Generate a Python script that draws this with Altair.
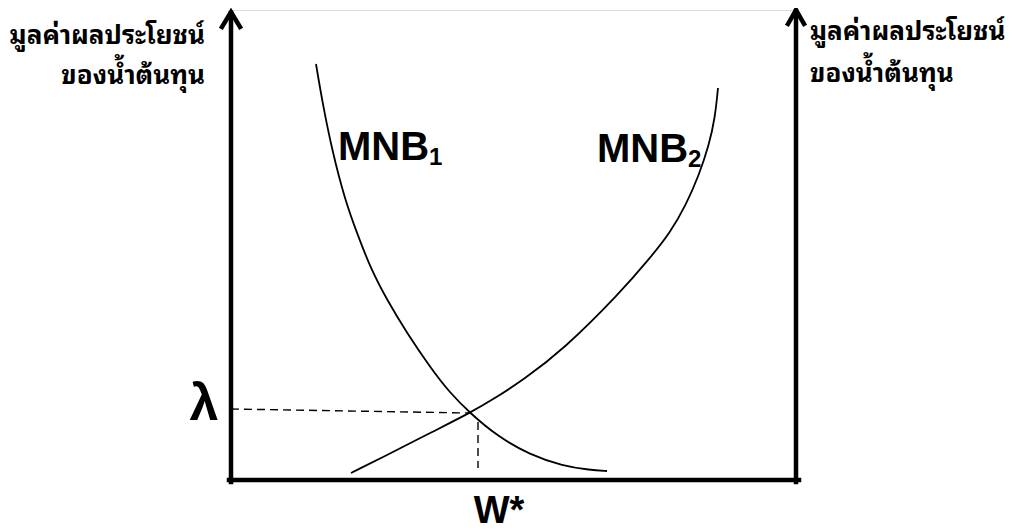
import altair as alt
import pandas as pd

# Diagram units: x = quantity of water, y = marginal net benefit (no numeric units)
mnb1_x = [85, 91, 101, 114, 126, 139, 156, 176, 199, 219, 239, 266, 299, 332, 359, 376]
mnb1_y = [416, 380, 330, 280, 247, 213, 180, 147, 113, 87, 67, 44, 25, 14, 10, 9]

mnb2_x = [120, 166, 199, 239, 266, 292, 332, 389, 419, 439, 455, 468, 478, 484, 487]
mnb2_y = [7, 30, 47, 67, 83, 100, 130, 187, 222, 247, 275, 305, 335, 362, 392]

lambda_x = [0, 239]
lambda_y = [71, 67]
wstar_x = [247, 247]
wstar_y = [58, 12]

# axes (left, bottom, right) and arrow heads
left_axis_x = [0, 0]
left_axis_y = [-2, 467]
bottom_axis_x = [-2, 568]
bottom_axis_y = [0, 0]
right_axis_x = [565, 565]
right_axis_y = [-2, 469]
left_head_x = [-9, 0, 9]
left_head_y = [453, 468, 453]
right_head_x = [557, 565, 573]
right_head_y = [456, 470, 456]

# labels
labels_big = ["MNB", "MNB"]
labels_big_x = [107, 366]
labels_big_y = [320, 318]
labels_sub = ["1", "2"]
labels_sub_x = [198, 457]
labels_sub_y = [315, 313]
axis_label_l = ["มูลค่าผลประโยชน์", "ของน้ำต้นทุน"]
axis_label_l_x = [-26, -26]
axis_label_l_y = [436, 396]
axis_label_r = ["มูลค่าผลประโยชน์", "ของน้ำต้นทุน"]
axis_label_r_x = [579, 579]
axis_label_r_y = [440, 398]
lam_text = ["λ"]
lam_x = [-27]
lam_y = [60]
w_text = ["W*"]
w_x = [268]
w_y = [-43]

W, H = 566, 470
xs = alt.Scale(domain=[0, W], nice=False, zero=False)
ys = alt.Scale(domain=[0, H], nice=False, zero=False)
X = lambda: alt.X("x:Q", scale=xs, axis=None)
Y = lambda: alt.Y("y:Q", scale=ys, axis=None)

THAI = "Noto Sans Thai Looped, Noto Sans Thai, Loma, Garuda, Tlwg Typo, Noto Sans, sans-serif"


def line_df(xv, yv):
    return pd.DataFrame({"x": xv, "y": yv, "o": list(range(len(xv)))})


def curve(xv, yv):
    return alt.Chart(line_df(xv, yv)).mark_line(
        color="black", strokeWidth=1.8, interpolate="basis", clip=False
    ).encode(x=X(), y=Y(), order="o:O")


def dashed(xv, yv):
    return alt.Chart(line_df(xv, yv)).mark_line(
        color="black", strokeWidth=1.4, strokeDash=[8, 5], clip=False
    ).encode(x=X(), y=Y(), order="o:O")


def thick(xv, yv):
    return alt.Chart(line_df(xv, yv)).mark_line(
        color="black", strokeWidth=4.5, clip=False, strokeJoin="miter", strokeCap="square"
    ).encode(x=X(), y=Y(), order="o:O")


def texts(tv, xv, yv, size, align, baseline="alphabetic", font="Liberation Sans"):
    df = pd.DataFrame({"x": xv, "y": yv, "t": tv})
    return alt.Chart(df).mark_text(
        font=font, fontSize=size, fontWeight="bold", align=align,
        baseline=baseline, color="black", clip=False
    ).encode(x=X(), y=Y(), text="t:N")


chart = alt.layer(
    curve(mnb1_x, mnb1_y),
    curve(mnb2_x, mnb2_y),
    dashed(lambda_x, lambda_y),
    dashed(wstar_x, wstar_y),
    thick(left_axis_x, left_axis_y),
    thick(bottom_axis_x, bottom_axis_y),
    thick(right_axis_x, right_axis_y),
    thick(left_head_x, left_head_y),
    thick(right_head_x, right_head_y),
    texts(labels_big, labels_big_x, labels_big_y, 40, "left"),
    texts(labels_sub, labels_sub_x, labels_sub_y, 24, "left"),
    texts(axis_label_l, axis_label_l_x, axis_label_l_y, 26, "right", font=THAI),
    texts(axis_label_r, axis_label_r_x, axis_label_r_y, 26, "left", font=THAI),
    texts(lam_text, lam_x, lam_y, 52, "center"),
    texts(w_text, w_x, w_y, 38, "center"),
).properties(
    width=W, height=H,
    autosize=alt.AutoSizeParams(type="none"),
    padding={"left": 223, "top": 2, "right": 212, "bottom": 51},
).configure_view(stroke=None).configure(background="white")

chart.save("out.html", embed_options={"renderer": "svg", "actions": False})
